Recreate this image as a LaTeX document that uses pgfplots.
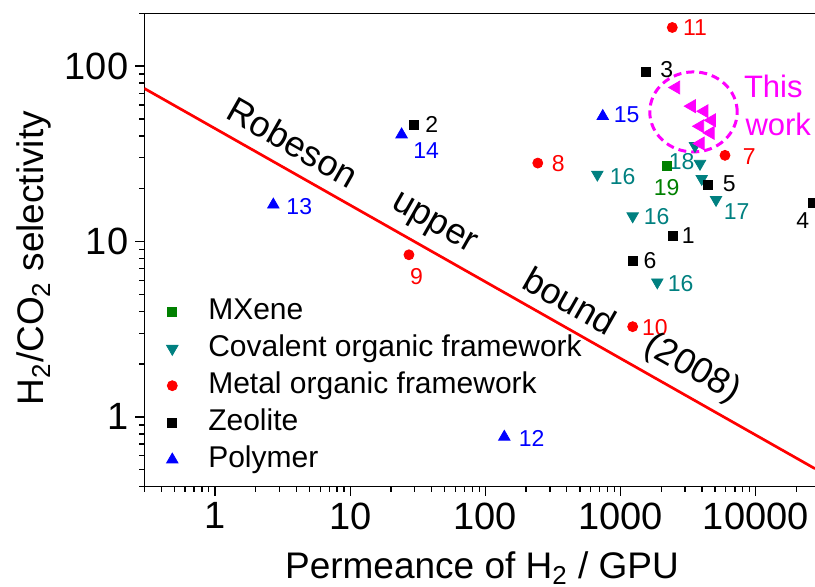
\documentclass[border=0pt]{standalone}
\usepackage{fontspec}
\setmainfont{Liberation Sans}
\usepackage{pgfplots}
\pgfplotsset{compat=1.18}
\definecolor{cof}{RGB}{0,128,128}
\definecolor{mx}{RGB}{0,128,0}
\definecolor{mag}{RGB}{255,0,255}
\pgfplotsset{myleg/.style={legend image code/.code={\path[draw=none,fill=none] (0pt,0pt) -- (17pt,0pt);\draw[mark repeat=2,mark phase=2,##1] plot coordinates {(0pt,0pt) (8.5pt,0pt) (17pt,0pt)};}}}
\begin{document}
\begin{tikzpicture}
\begin{axis}[
  scale only axis, width=335.35pt, height=236.7pt,
  at={(0,0)}, anchor=south west,
  xmode=log, ymode=log,
  xmin=0.3, xmax=27400, ymin=0.4, ymax=200,
  axis x line=box, axis y line=left,
  x axis line style={-}, y axis line style={-},
  axis line style={line width=0.65pt, black},
  xtick pos=bottom, ytick pos=left,
  tick align=outside,
  major tick length=4.5pt, minor tick length=2.5pt,
  tick style={black, line width=0.65pt},
  xtick={1,10,100,1000,10000}, xticklabels={1,10,100,1000,10000},
  ytick={1,10,100}, yticklabels={1,10,100},
  minor xtick={0.3,0.4,0.5,0.6,0.7,0.8,0.9,2,3,4,5,6,7,8,9,20,30,40,50,60,70,80,90,200,300,400,500,600,700,800,900,2000,3000,4000,5000,6000,7000,8000,9000,20000},
  minor ytick={0.4,0.5,0.6,0.7,0.8,0.9,2,3,4,5,6,7,8,9,20,30,40,50,60,70,80,90,200},
  tick label style={font=\fontsize{19}{22}\selectfont},
  /pgf/number format/assume math mode=true,
  xlabel={Permeance of H\textsubscript{2} / GPU},
  ylabel={H\textsubscript{2}/CO\textsubscript{2} selectivity},
  label style={font=\fontsize{18.5}{21}\selectfont},
  xlabel style={at={(axis description cs:0.5035,0)}, anchor=base, yshift=-46pt},
  ylabel style={at={(axis description cs:0,0.483)}, anchor=center, yshift=55pt},
  legend style={at={(axis description cs:0.0164,0.4035)}, anchor=north west, draw=none, fill=none, inner sep=0pt, outer sep=0pt, font=\fontsize{15}{17}\selectfont, row sep=2.5pt, nodes={inner sep=1pt, text height=11pt, text depth=3pt}, /tikz/every odd column/.append style={column sep=8.5pt}},
  legend cell align=left,
]
% Robeson upper bound
\addplot[red, line width=1.35pt, forget plot] coordinates {(0.3,74.6) (27400,0.507)};

\addplot[only marks, myleg, mark=square*, color=mx, mark size=2.25pt] coordinates {(2193,26.9)};
\addlegendentry{MXene}
\addplot[only marks, myleg, mark=triangle*, color=cof, mark size=3.3pt, mark options={rotate=180}] coordinates {
(3548,35.1) (3864,27.8) (3981,22.8) (5078,17.3) (673,24.1) (1228,13.95) (1868,5.86)};
\addlegendentry{Covalent organic framework}
\addplot[only marks, myleg, mark=*, color=red, mark size=2.5pt] coordinates {
(2411,166) (5917,31.0) (244,28.0) (27.2,8.40) (1228,3.27)};
\addlegendentry{Metal organic framework}
\addplot[only marks, myleg, mark=square*, color=black, mark size=2.25pt] coordinates {
(1534,92.8) (4453,20.9) (2428,10.8) (1242,7.79) (26600,16.6) (29.8,46.0)};
\addlegendentry{Zeolite}
\addplot[only marks, myleg, mark=triangle*, color=blue, mark size=3.3pt] coordinates {
(738,51.8) (24.0,40.7) (2.70,16.2) (138,0.769)};
\addlegendentry{Polymer}
\addplot[only marks, mark=triangle*, color=mag, mark size=3.7pt, mark options={rotate=90}, forget plot] coordinates {
(2570,75.5) (3356,59.1) (4159,55.3) (4722,49.1) (3864,45.4) (4624,41.6) (3899,36.2)};

\draw[mag, line width=1.5pt, dash pattern=on 4pt off 2.5pt] (axis cs:3460,54.8) ellipse [x radius=21.85pt, y radius=20pt];
\draw[black, line width=0.65pt] (rel axis cs:0,1) -- (rel axis cs:1,1);

% labels
\begin{scope}[font=\fontsize{11.5}{13}\selectfont]
\node[red] at (axis cs:3550,166.4) {11};
\node[red] at (axis cs:8950,30.6) {7};
\node[red] at (axis cs:346,27.8) {8};
\node[red] at (axis cs:31.0,6.31) {9};
\node[red] at (axis cs:1795,3.24) {10};
\node[black] at (axis cs:2193,95.8) {3};
\node[black] at (axis cs:6368,21.4) {5};
\node[black] at (axis cs:3169,10.8) {1};
\node[black] at (axis cs:22230,13.18) {4};
\node[black] at (axis cs:1649,7.79) {6};
\node[black] at (axis cs:40.1,46.6) {2};
\node[blue] at (axis cs:1109,52.5) {15};
\node[blue] at (axis cs:36.4,33.1) {14};
\node[blue] at (axis cs:4.20,15.85) {13};
\node[blue] at (axis cs:220,0.756) {12};
\node[cof] at (axis cs:2832,28.7) {18};
\node[cof] at (axis cs:1036,23.3) {16};
\node[cof] at (axis cs:1849,13.8) {16};
\node[cof] at (axis cs:2782,5.78) {16};
\node[cof] at (axis cs:7225,14.8) {17};
\node[mx] at (axis cs:2193,20.4) {19};
\end{scope}
\node[mag, font=\fontsize{15.5}{17}\selectfont] at (axis cs:13470,76.2) {This};
\node[mag, font=\fontsize{15.5}{17}\selectfont] at (axis cs:14660,46.6) {work};

\begin{scope}[font=\fontsize{18}{20}\selectfont]
\node[rotate=-29.6] at (axis cs:3.776,36.8) {Robeson};
\node[rotate=-29.6] at (axis cs:41.0,12.35) {upper};
\node[rotate=-29.6] at (axis cs:422.5,4.60) {bound};
\node[rotate=-29.6] at (axis cs:3374,1.88) {(2008)};
\end{scope}
\end{axis}
\pgfresetboundingbox
\useasboundingbox (-72.15pt,-49.65pt) rectangle (335.35pt,243.35pt);
\end{tikzpicture}
\end{document}
